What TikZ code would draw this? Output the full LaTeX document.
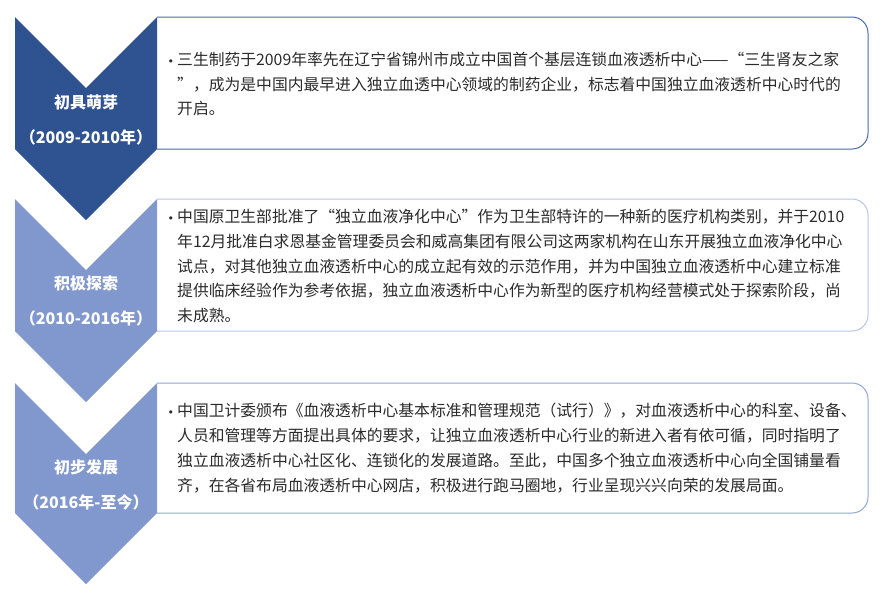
\documentclass[tikz,border=0pt]{standalone}
\usepackage{fontspec}
\setmainfont{Noto Sans CJK SC}
\newfontfamily\bulfont{DejaVu Sans}
\definecolor{dkblue}{HTML}{2F5290}
\definecolor{ltblue}{HTML}{8198CE}
\definecolor{bdone}{HTML}{4A69A8}
\definecolor{bdtwo}{HTML}{B7C6E6}
\definecolor{bdthree}{HTML}{90A7D8}
\definecolor{txt}{HTML}{2B2B2B}
\tikzset{
  body/.style={anchor=west, inner sep=0pt, align=left, text=txt,
    font=\fontsize{15.8}{24.8}\selectfont},
  lab/.style={inner sep=0pt, text=white, font=\fontsize{16}{18}\selectfont\bfseries},
  boxline/.style={line width=1pt, rounded corners=16pt},
}
\newcommand{\bul}{\llap{{\bulfont\fontsize{11}{11}\selectfont •}\hspace{3pt}}}
\begin{document}
\begin{tikzpicture}[x=1pt,y=-1pt]
\useasboundingbox[fill=white] (0,0) rectangle (880,590);
% boxes
\draw[boxline, draw=bdone] (157,17) -- (868,17) -- (868,149) -- (157,149);
\draw[boxline, draw=bdtwo] (157,199) -- (868,199) -- (868,331) -- (157,331);
\draw[boxline, draw=bdthree] (157,383) -- (868,383) -- (868,513) -- (157,513);
% chevrons
\fill[dkblue] (15,17) -- (86,88) -- (157,17) -- (157,149) -- (86,220) -- (15,149) -- cycle;
\fill[ltblue] (15,199) -- (86,270) -- (157,199) -- (157,331) -- (86,402) -- (15,331) -- cycle;
\fill[ltblue] (15,383) -- (86,454) -- (157,383) -- (157,513) -- (86,584) -- (15,513) -- cycle;
% labels
\node[lab] (l1) at (86,102) {初具萌芽};
\node[lab] (y1) at (86,137) {（2009-2010年）};
\node[lab] (l2) at (86,283) {积极探索};
\node[lab] (y2) at (86,318) {（2010-2016年）};
\node[lab] (l3) at (86,467) {初步发展};
\node[lab] (y3) at (86,502) {（2016年-至今）};
% texts
\node[body] (t1) at (177,84) {\bul 三生制药于2009年率先在辽宁省锦州市成立中国首个基层连锁血液透析中心——“三生肾友之家\\”，成为是中国内最早进入独立血透中心领域的制药企业，标志着中国独立血液透析中心时代的\\开启。};
\node[body] (t2) at (177,266) {\bul 中国原卫生部批准了“独立血液净化中心”作为卫生部特许的一种新的医疗机构类别，并于2010\\年12月批准白求恩基金管理委员会和威高集团有限公司这两家机构在山东开展独立血液净化中心\\试点，对其他独立血液透析中心的成立起有效的示范作用，并为中国独立血液透析中心建立标准\\提供临床经验作为参考依据，独立血液透析中心作为新型的医疗机构经营模式处于探索阶段，尚\\未成熟。};
\node[body] (t3) at (177,448) {\bul 中国卫计委颁布《血液透析中心基本标准和管理规范（试行）》，对血液透析中心的科室、设备、\\人员和管理等方面提出具体的要求，让独立血液透析中心行业的新进入者有依可循，同时指明了\\独立血液透析中心社区化、连锁化的发展道路。至此，中国多个独立血液透析中心向全国铺量看\\齐，在各省布局血液透析中心网店，积极进行跑马圈地，行业呈现兴兴向荣的发展局面。};
\end{tikzpicture}
\end{document}
